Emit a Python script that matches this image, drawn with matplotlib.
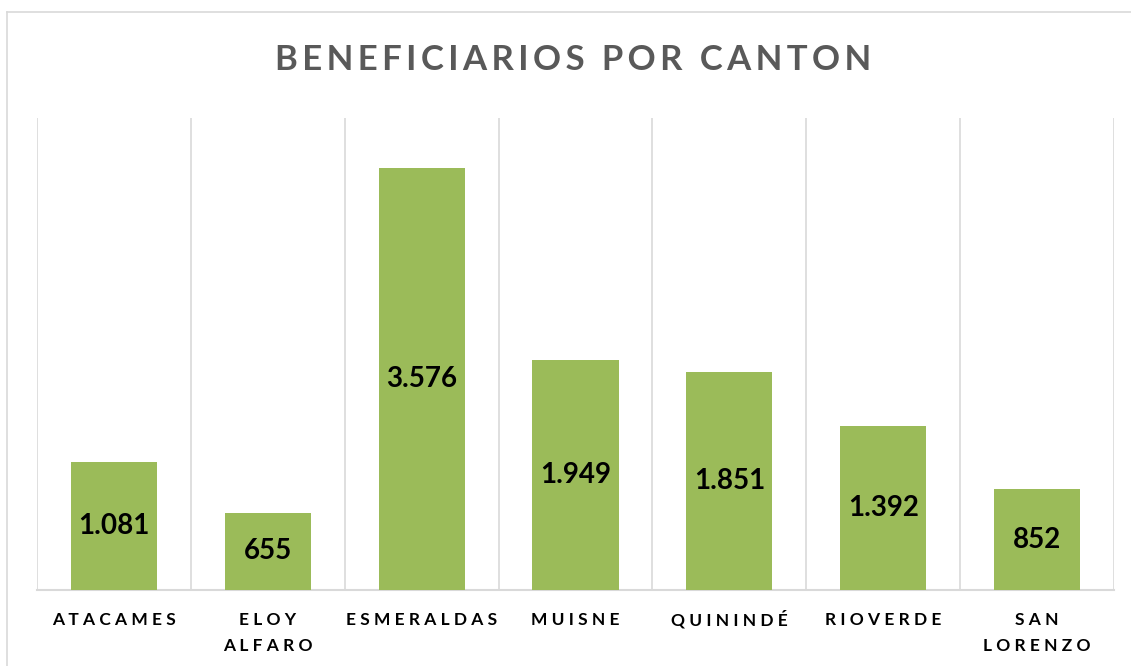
import matplotlib
matplotlib.use("Agg")
import matplotlib.pyplot as plt
from matplotlib.lines import Line2D

# data
cantones = ["ATACAMES", "ELOY\nALFARO", "ESMERALDAS", "MUISNE", "QUININDÉ", "RIOVERDE", "SAN\nLORENZO"]
beneficiarios = [1081, 655, 3576, 1949, 1851, 1392, 852]

FONT = ["Lato", "DejaVu Sans"]
SP = "\u2009"  # thin space used for letter spacing


def spaced(txt, gap=SP):
    return gap.join(txt)


def miles(v):
    return f"{v:,}".replace(",", ".")


plt.rcParams["font.family"] = FONT

fig = plt.figure(figsize=(11.31, 6.66), dpi=100)
ax = fig.add_axes([37 / 1131, 1 - 590 / 666, (1114 - 37) / 1131, (590 - 118) / 666])

x = list(range(len(cantones)))
bars = ax.bar(x, beneficiarios, width=0.56, color="#9BBB59", zorder=3)

ax.set_xlim(-0.5, len(cantones) - 0.5)
ax.set_ylim(0, 4000)

for rect, v in zip(bars, beneficiarios):
    ax.text(rect.get_x() + rect.get_width() / 2, v / 2, miles(v),
            ha="center", va="center", fontsize=20, fontweight="bold",
            color="black", zorder=4)

# category separators
for b in range(len(cantones) + 1):
    ax.axvline(b - 0.5, color="#D9D9D9", lw=1.2, zorder=1)

for s in ["top", "left", "right"]:
    ax.spines[s].set_visible(False)
ax.spines["bottom"].set_color("#D9D9D9")
ax.spines["bottom"].set_linewidth(1.5)

ax.set_yticks([])
ax.set_xticks([])

# category labels, one line at a time so baselines line up
for i, name in enumerate(cantones):
    for j, line in enumerate(name.split("\n")):
        ax.annotate(spaced(line, SP * 2), xy=(i, 0), xycoords=("data", "axes fraction"),
                    xytext=(0, -25.2 - 18.8 * j), textcoords="offset points",
                    ha="center", va="baseline", fontsize=12.5, fontweight="bold")

fig.text(0.507, 0.910, spaced("BENEFICIARIOS POR CANTON"), ha="center", va="center",
         fontsize=25, fontweight="bold", color="#595959")

# outer chart border (top and left visible)
fig.add_artist(Line2D([7 / 1131, 1], [1 - 12 / 666, 1 - 12 / 666],
                      transform=fig.transFigure, color="#D9D9D9", lw=1.2))
fig.add_artist(Line2D([7 / 1131, 7 / 1131], [0, 1 - 12 / 666],
                      transform=fig.transFigure, color="#D9D9D9", lw=1.2))

fig.savefig("out.png", dpi=100, facecolor="white")
